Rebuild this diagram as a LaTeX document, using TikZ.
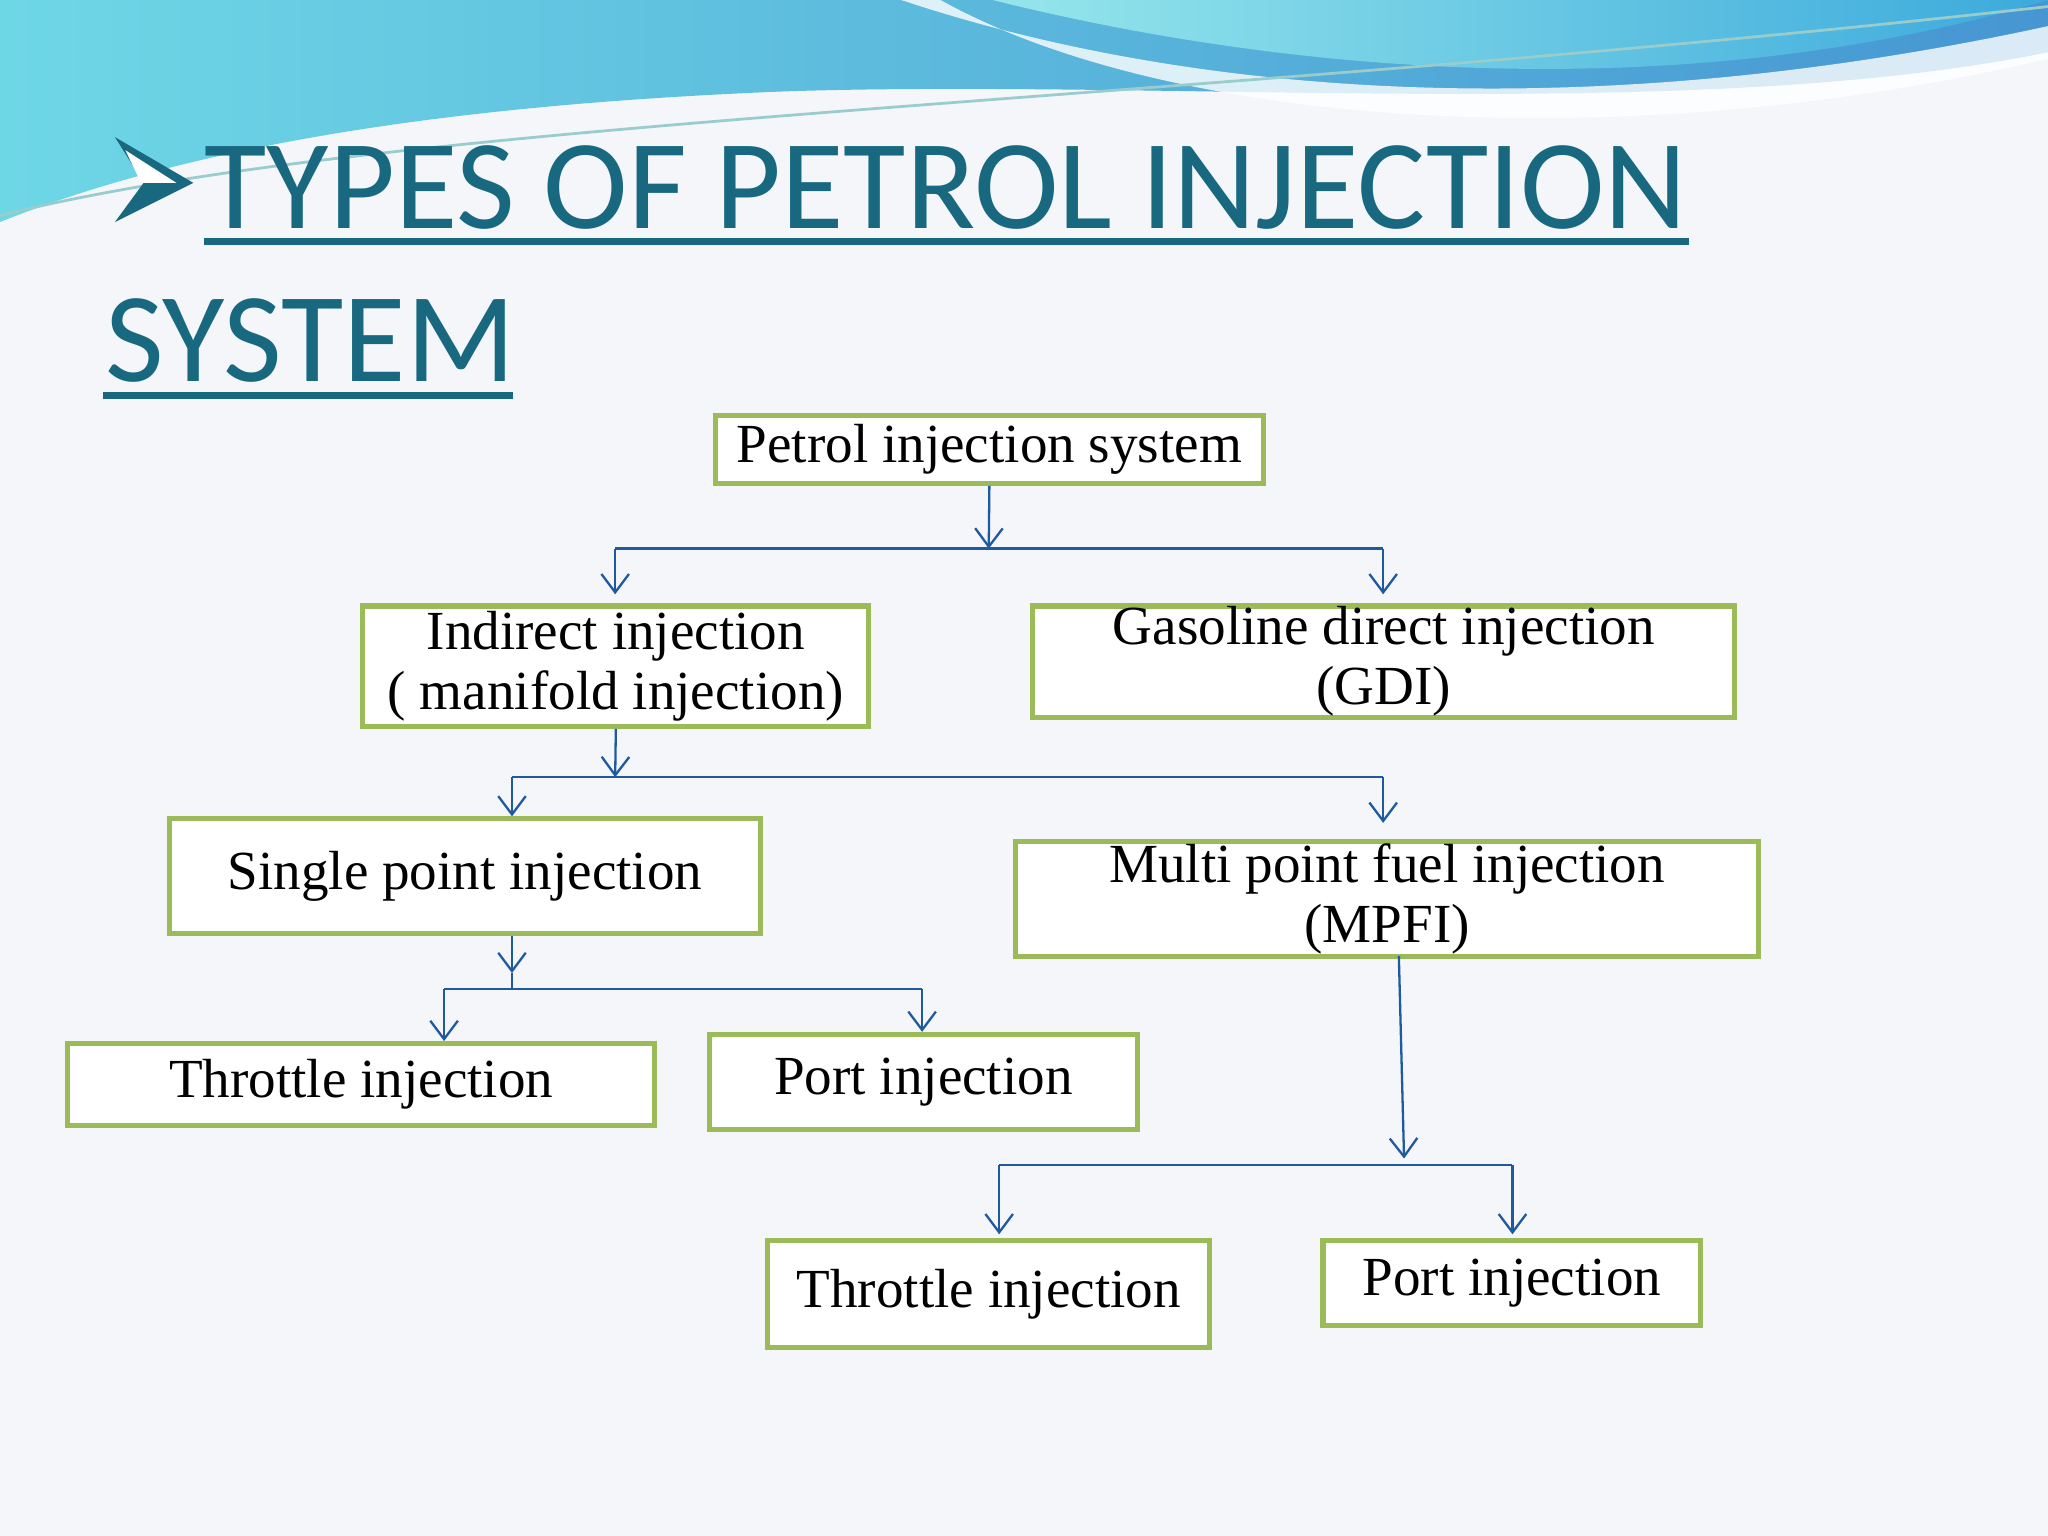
\documentclass[tikz,border=0pt]{standalone}
\usepackage{fontspec}
\setmainfont{Liberation Serif}
\newfontfamily\titlefont{Carlito}
\usetikzlibrary{arrows.meta}
\definecolor{boxg}{RGB}{155,187,89}
\definecolor{lnb}{RGB}{31,90,160}
\definecolor{ttl}{RGB}{24,104,128}
\begin{document}
\begin{tikzpicture}[x=0.01cm,y=-0.01cm,
  bx/.style={draw=boxg,line width=1.1pt,fill=white,inner sep=0pt,font=\fontsize{12}{13}\selectfont,align=center},
  cn/.style={draw=lnb,line width=0.5pt},
  ar/.style={cn,-{Straight Barb[length=4pt,width=6pt]}},
  ul/.style={draw=ttl,line width=1.6pt}]
\useasboundingbox (0,0) rectangle (1568,1176);
\fill[color={rgb,255:red,244;green,246;blue,250}] (0,0) rectangle (1568,1176);
% waves
\shade[left color={rgb,255:red,110;green,215;blue,230},right color={rgb,255:red,70;green,150;blue,210}]
  (0,0) -- (1568,0) -- (1568,40) .. controls (1300,95) and (900,60) .. (600,70)
  .. controls (350,80) and (150,110) .. (0,170) -- cycle;
\fill[white,opacity=0.8] (690,0) .. controls (900,70) and (1200,100) .. (1568,20) -- (1568,45)
  .. controls (1250,120) and (900,100) .. (720,0) -- cycle;
\shade[left color={rgb,255:red,150;green,230;blue,235},right color={rgb,255:red,60;green,170;blue,220}]
  (760,0) .. controls (1000,60) and (1300,80) .. (1568,0) -- cycle;
\draw[white!60!teal,line width=0.6pt] (0,165) .. controls (300,90) and (900,80) .. (1568,5);
% title
\fill[ttl] (88,105) -- (148,140) -- (88,170) -- (110,140) -- cycle;
\fill[white] (96,115) -- (135,140) -- (108,140) -- cycle;
\node[anchor=base west,inner sep=0,text=ttl,font=\titlefont\fontsize{27.8}{30}\selectfont] (t1) at (156,175) {TYPES OF PETROL INJECTION};
\node[anchor=base west,inner sep=0,text=ttl,font=\titlefont\fontsize{27.8}{30}\selectfont] (t2) at (80,292) {SYSTEM};
\draw[ul] (156,185) -- (1293,185);
\draw[ul] (79,303) -- (393,303);
% boxes
\node[bx,minimum width=4.19cm,minimum height=0.52cm] (pet) at (757.5,344) {Petrol injection system};
\node[bx,minimum width=3.87cm,minimum height=0.92cm] (ind) at (471.5,510) {Indirect injection\\( manifold injection)};
\node[bx,minimum width=5.37cm,minimum height=0.85cm] (gdi) at (1059.5,506.5) {Gasoline direct injection\\(GDI)};
\node[bx,minimum width=4.52cm,minimum height=0.88cm] (spi) at (356,671) {Single point injection};
\node[bx,minimum width=5.68cm,minimum height=0.88cm] (mpf) at (1062,688) {Multi point fuel injection\\(MPFI)};
\node[bx,minimum width=4.49cm,minimum height=0.63cm] (th1) at (276.5,830.5) {Throttle injection};
\node[bx,minimum width=3.28cm,minimum height=0.73cm] (po1) at (707,828.5) {Port injection};
\node[bx,minimum width=3.38cm,minimum height=0.82cm] (th2) at (757,991) {Throttle injection};
\node[bx,minimum width=2.89cm,minimum height=0.65cm] (po2) at (1157.5,982.5) {Port injection};
% connectors
\coordinate (b1) at (757,420); \coordinate (b1l) at (471,420); \coordinate (b1r) at (1059,420);
\draw[ar] (pet.south) -- (b1);
\draw[cn] (b1l) -- (b1r);
\draw[ar] (b1l) -- (471,455);
\draw[ar] (b1r) -- (1059,455);
\coordinate (b2) at (471,595); \coordinate (b2l) at (392,595); \coordinate (b2r) at (1059,595);
\draw[ar] (ind.south) -- (b2);
\draw[cn] (b2l) -- (b2r);
\draw[ar] (b2l) -- (spi.north -| b2l);
\draw[ar] (b2r) -- (1059,630);
\coordinate (b3) at (392,757); \coordinate (b3l) at (340,757); \coordinate (b3r) at (706,757);
\draw[ar] (spi.south -| b3) -- (392,745);
\draw[cn] (b3) -- (392,745);
\draw[cn] (b3l) -- (b3r);
\draw[ar] (b3l) -- (th1.north -| b3l);
\draw[ar] (b3r) -- (po1.north -| b3r);
\coordinate (m0) at (1071,732); \coordinate (b4) at (1075,887);
\coordinate (b4l) at (765,892); \coordinate (b4r) at (1158,892);
\draw[ar] (m0) -- (b4);
\draw[cn] (b4l) -- (b4r);
\draw[ar] (b4l) -- (765,945);
\draw[ar] (b4r) -- (1158,945);
\end{tikzpicture}
\end{document}
